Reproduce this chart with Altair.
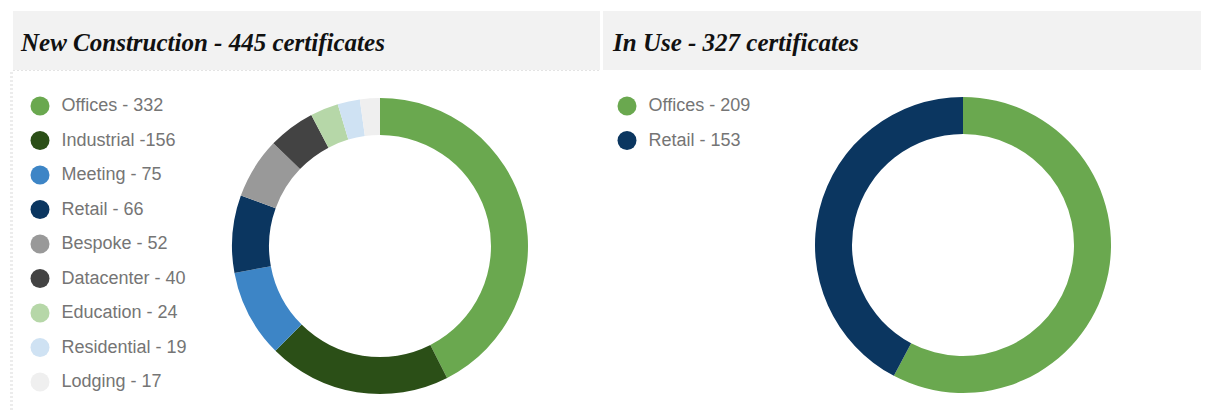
import altair as alt
import pandas as pd

# ---- data ----
nc_categories = ["Offices", "Industrial", "Meeting", "Retail", "Bespoke",
                 "Datacenter", "Education", "Residential", "Lodging"]
nc_values = [332, 156, 75, 66, 52, 40, 24, 19, 17]
nc_labels = ["Offices - 332", "Industrial -156", "Meeting - 75", "Retail - 66",
             "Bespoke - 52", "Datacenter - 40", "Education - 24",
             "Residential - 19", "Lodging - 17"]
nc_colors = ["#6aa84f", "#2b4f17", "#3d85c6", "#0b3660", "#999999",
             "#434343", "#b6d7a8", "#cfe2f3", "#efefef"]

iu_categories = ["Offices", "Retail"]
iu_values = [209, 153]
iu_labels = ["Offices - 209", "Retail - 153"]
iu_colors = ["#6aa84f", "#0b3660"]

titles = ["New Construction - 445 certificates", "In Use - 327 certificates"]

H = 403
TITLE_FONT = "Liberation Serif"
LABEL_FONT = "Liberation Sans"


def panel(cats, vals, labels, colors, title, width, bar_x0, bar_x1, text_x,
          cx, cy, leg_x, leg_y, left_border):
    df = pd.DataFrame({"category": cats, "value": vals, "label": labels,
                       "idx": list(range(len(cats)))})
    one = pd.DataFrame({"t": [title]})

    bar = alt.Chart(one).mark_rect(color="#f2f2f2").encode(
        x=alt.value(bar_x0), x2=alt.value(bar_x1),
        y=alt.value(3), y2=alt.value(62))
    txt = alt.Chart(one).mark_text(
        font=TITLE_FONT, fontSize=25, fontWeight="bold", fontStyle="italic",
        align="left", baseline="alphabetic", color="#111111").encode(
        text="t:N", x=alt.value(text_x), y=alt.value(43))

    arc = alt.Chart(df).mark_arc(radius=148, radius2=111, strokeWidth=0).encode(
        theta=alt.Theta("value:Q", stack=True),
        order=alt.Order("idx:Q"),
        color=alt.Color(
            "label:N",
            scale=alt.Scale(domain=labels, range=colors),
            sort=labels,
            legend=alt.Legend(
                title=None, orient="none", legendX=leg_x, legendY=leg_y,
                padding=0, symbolType="circle", symbolSize=361,
                symbolStrokeWidth=0, symbolOpacity=1,
                labelFont=LABEL_FONT, labelFontSize=18, labelColor="#757575",
                labelOffset=12, rowPadding=15.5, labelLimit=0),
        ),
        x=alt.value(cx), y=alt.value(cy),
    )
    layers = [bar, txt]
    if left_border:
        dline = alt.Chart(one).mark_rule(
            color="#e4e4e4", strokeDash=[2, 2], strokeWidth=1).encode(
            x=alt.value(bar_x0), x2=alt.value(bar_x1), y=alt.value(62.5))
        vline = alt.Chart(one).mark_rule(
            color="#ececec", strokeDash=[2, 2], strokeWidth=3).encode(
            x=alt.value(3.5), y=alt.value(64), y2=alt.value(H))
        layers += [dline, vline]
    layers.append(arc)
    return alt.layer(*layers).properties(width=width, height=H)


left = panel(nc_categories, nc_values, nc_labels, nc_colors, titles[0],
             595, 5, 592, 13, 372, 238, 22.5, 88.5, True)
right = panel(iu_categories, iu_values, iu_labels, iu_colors, titles[1],
              598, 0, 598, 10, 360, 237, 14.5, 88.5, False)

chart = alt.hconcat(left, right, spacing=0).resolve_scale(
    color="independent", theta="independent").properties(
    padding=0).configure_view(stroke=None)

chart.save("out.html", embed_options={"renderer": "svg", "actions": False})
